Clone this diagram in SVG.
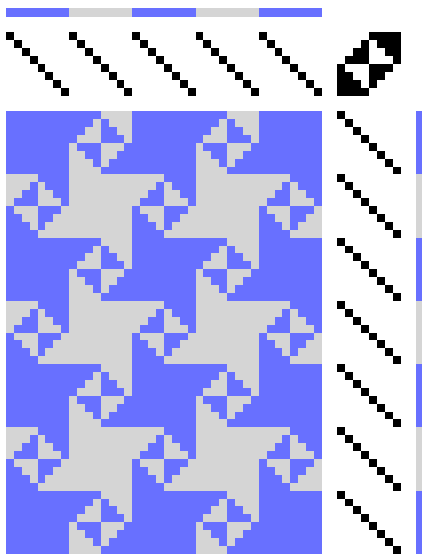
<svg xmlns="http://www.w3.org/2000/svg" width="422" height="554" viewBox="0 0 422 554">
<style>
.b{fill:#6870ff}
.g{fill:#d5d5d5}
.k{fill:#000}
g{shape-rendering:crispEdges}
</style>
<defs>
<path id="weaveB" d="M4 0h4v1h-4zM3 1h1v1h-1zM5 1h3v1h-3zM2 2h2v1h-2zM6 2h2v1h-2zM1 3h3v1h-3zM7 3h1v1h-1zM0 4h1v1h-1zM4 4h3v1h-3zM0 5h2v1h-2zM4 5h2v1h-2zM0 6h3v1h-3zM4 6h1v1h-1zM0 7h4v1h-4z"/>
<path id="weaveC" d="M0 0h4v1h-4zM0 1h3v1h-3zM4 1h1v1h-1zM0 2h2v1h-2zM4 2h2v1h-2zM0 3h1v1h-1zM4 3h3v1h-3zM1 4h3v1h-3zM7 4h1v1h-1zM2 5h2v1h-2zM6 5h2v1h-2zM3 6h1v1h-1zM5 6h3v1h-3zM4 7h4v1h-4z"/>
<path id="diag" d="M0 0h1v1h-1zM1 1h1v1h-1zM2 2h1v1h-1zM3 3h1v1h-1zM4 4h1v1h-1zM5 5h1v1h-1zM6 6h1v1h-1zM7 7h1v1h-1z"/>
</defs>
<rect width="422" height="554" fill="#fff"/>
<g id="warp-colors" transform="translate(5.95 0) scale(7.9 1)">
<rect class="b" x="0" y="8" width="8" height="9"/>
<rect class="g" x="8" y="8" width="8" height="9"/>
<rect class="b" x="16" y="8" width="8" height="9"/>
<rect class="g" x="24" y="8" width="8" height="9"/>
<rect class="b" x="32" y="8" width="8" height="9"/>
</g>
<g id="threading" class="k" transform="translate(5.95 32.35) scale(7.9)">
<use href="#diag" x="0"/>
<use href="#diag" x="8"/>
<use href="#diag" x="16"/>
<use href="#diag" x="24"/>
<use href="#diag" x="32"/>
</g>
<g id="tie-up" class="k" transform="translate(337.35 32.35) scale(7.9)">
<use href="#weaveB"/>
</g>
<g id="drawdown" transform="translate(5.95 111.2) scale(7.9 7.905)">
<rect class="b" width="40" height="56"/>
<g class="g">
<use href="#weaveB" x="8" y="0"/><use href="#weaveB" x="24" y="0"/>
<use href="#weaveB" x="8" y="16"/><use href="#weaveB" x="24" y="16"/>
<use href="#weaveB" x="8" y="32"/><use href="#weaveB" x="24" y="32"/>
<use href="#weaveB" x="8" y="48"/><use href="#weaveB" x="24" y="48"/>
<use href="#weaveC" x="0" y="8"/><use href="#weaveC" x="16" y="8"/><use href="#weaveC" x="32" y="8"/>
<use href="#weaveC" x="0" y="24"/><use href="#weaveC" x="16" y="24"/><use href="#weaveC" x="32" y="24"/>
<use href="#weaveC" x="0" y="40"/><use href="#weaveC" x="16" y="40"/><use href="#weaveC" x="32" y="40"/>
<rect x="8" y="8" width="8" height="8"/><rect x="24" y="8" width="8" height="8"/>
<rect x="8" y="24" width="8" height="8"/><rect x="24" y="24" width="8" height="8"/>
<rect x="8" y="40" width="8" height="8"/><rect x="24" y="40" width="8" height="8"/>
</g>
</g>
<g id="treadling" class="k" transform="translate(337.35 111.2) scale(7.9 7.905)">
<use href="#diag" y="0"/>
<use href="#diag" y="8"/>
<use href="#diag" y="16"/>
<use href="#diag" y="24"/>
<use href="#diag" y="32"/>
<use href="#diag" y="40"/>
<use href="#diag" y="48"/>
</g>
<g id="weft-colors" transform="translate(0 111.2) scale(1 7.905)">
<rect class="b" x="416" y="0" width="6" height="8"/>
<rect class="g" x="416" y="8" width="6" height="8"/>
<rect class="b" x="416" y="16" width="6" height="8"/>
<rect class="g" x="416" y="24" width="6" height="8"/>
<rect class="b" x="416" y="32" width="6" height="8"/>
<rect class="g" x="416" y="40" width="6" height="8"/>
<rect class="b" x="416" y="48" width="6" height="8"/>
</g>
</svg>
